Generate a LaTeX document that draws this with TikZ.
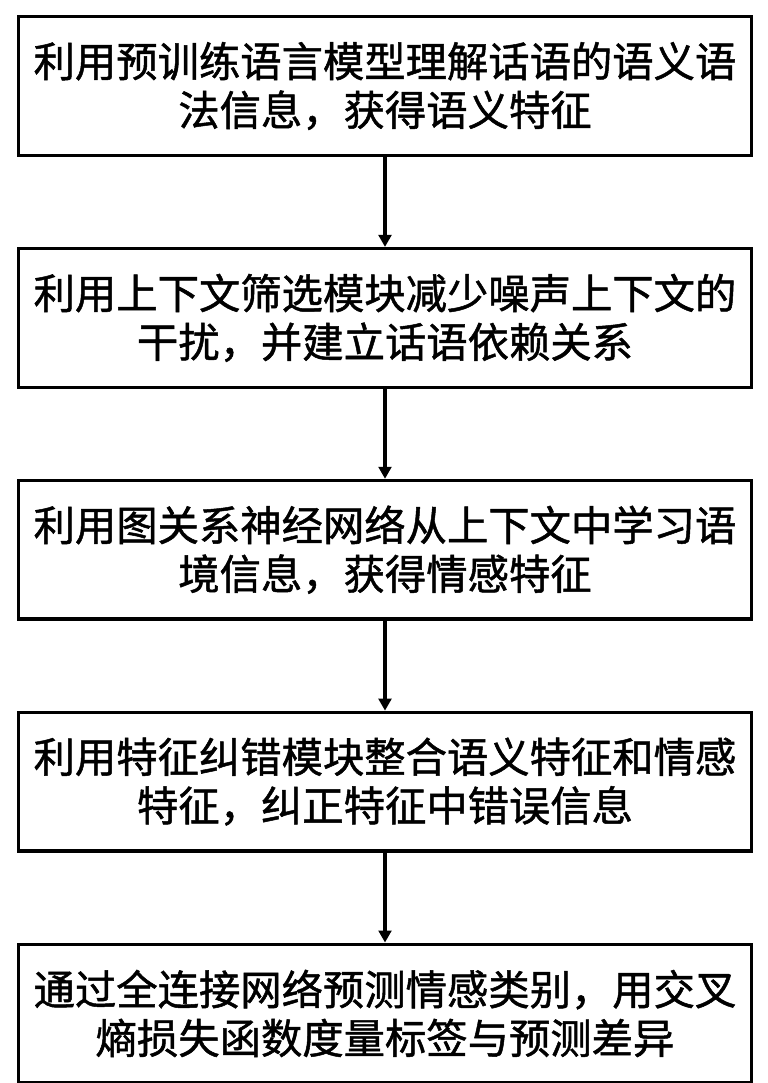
\documentclass[tikz,border=0pt]{standalone}
\usepackage{fontspec}
\newfontfamily\cjk[FakeBold=1.2]{Noto Sans CJK SC}
\usetikzlibrary{arrows.meta,positioning}

\begin{document}
\begin{tikzpicture}[
  font=\cjk\fontsize{31pt}{36.5pt}\selectfont,
  node distance=67.5pt,
  stepbox/.style={
    draw=black,
    line width=2.4pt,
    fill=white,
    align=center,
    inner sep=0pt,
    minimum width=550pt,
    minimum height=104pt
  },
  arrow/.style={-{Triangle[length=9pt,width=9.5pt]}, line width=2.4pt, draw=black}
]

% page frame
\useasboundingbox[fill=white] (0,0) rectangle (576pt,-812.25pt);

\node[stepbox] (semantic) at (288.75pt,-64.5pt)
  {利用预训练语言模型理解话语的语义语\\法信息，获得语义特征};
\node[stepbox, below=of semantic] (filter)
  {利用上下文筛选模块减少噪声上下文的\\干扰，并建立话语依赖关系};
\node[stepbox, below=of filter] (graph)
  {利用图关系神经网络从上下文中学习语\\境信息，获得情感特征};
\node[stepbox, below=of graph] (correct)
  {利用特征纠错模块整合语义特征和情感\\特征，纠正特征中错误信息};
\node[stepbox, below=of correct] (predict)
  {通过全连接网络预测情感类别，用交叉\\熵损失函数度量标签与预测差异};

\draw[arrow] (semantic) -- (filter);
\draw[arrow] (filter) -- (graph);
\draw[arrow] (graph) -- (correct);
\draw[arrow] (correct) -- (predict);

\end{tikzpicture}
\end{document}
